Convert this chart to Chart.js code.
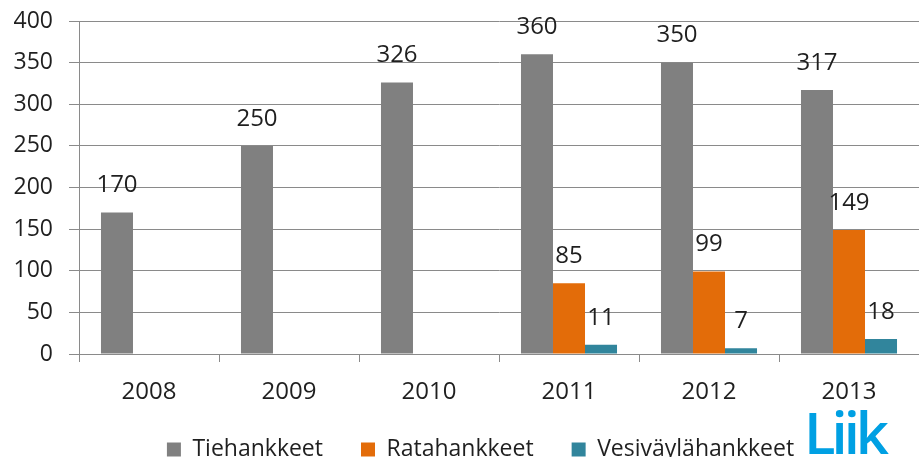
<!DOCTYPE html>
<html>
<head>
<meta charset="utf-8">
<script src="https://cdn.jsdelivr.net/npm/chart.js@4"></script>
<style>
  html, body { margin: 0; padding: 0; background: #fff; }
  #wrap { position: relative; width: 919px; height: 457px; overflow: hidden; }
  #logo { position: absolute; left: 804px; top: 403px; font-family: "Open Sans", sans-serif; font-weight: 600; font-size: 58px; line-height: 1; color: #00A0E3; letter-spacing: -4px; }
</style>
</head>
<body>
<div id="wrap">
  <canvas id="c" width="919" height="457"></canvas>
  <div id="logo">Liik</div>
</div>
<script>
const years = ['2008', '2009', '2010', '2011', '2012', '2013'];
const seriesNames = ['Tiehankkeet', 'Ratahankkeet', 'Vesiväylähankkeet'];
const tiehankkeet = [170, 250, 326, 360, 350, 317];
const ratahankkeet = [null, null, null, 85, 99, 149];
const vesivaylahankkeet = [null, null, null, 11, 7, 18];
const seriesColors = ['#808080', '#E36C09', '#31859C'];
const yTicks = [0, 50, 100, 150, 200, 250, 300, 350, 400];

const FONT = '"Open Sans", sans-serif';
const TEXT = '#1f1f1f';
const GRID = '#8a8a8a';

const labelPlugin = {
  id: 'valueLabels',
  afterDatasetsDraw(chart) {
    const ctx = chart.ctx;
    ctx.save();
    ctx.font = '24px ' + FONT;
    ctx.fillStyle = TEXT;
    ctx.textAlign = 'center';
    ctx.textBaseline = 'middle';
    chart.data.datasets.forEach((ds, i) => {
      const meta = chart.getDatasetMeta(i);
      meta.data.forEach((el, j) => {
        const v = ds.data[j];
        if (v === null || v === undefined) return;
        ctx.fillText(String(v), el.x, el.y - 27);
      });
    });
    ctx.restore();
  }
};

// shift the legend block: centred a bit right of the canvas centre
const legendShift = {
  id: 'legendShift',
  afterLayout(chart) {
    const lg = chart.legend;
    if (!lg) return;
    lg.left += 42;
    lg.top -= 6;
  }
};

new Chart(document.getElementById('c'), {
  type: 'bar',
  data: {
    labels: years,
    datasets: [
      { label: seriesNames[0], data: tiehankkeet, backgroundColor: seriesColors[0] },
      { label: seriesNames[1], data: ratahankkeet, backgroundColor: seriesColors[1] },
      { label: seriesNames[2], data: vesivaylahankkeet, backgroundColor: seriesColors[2] }
    ]
  },
  options: {
    responsive: false,
    animation: false,
    layout: { padding: { top: 21, right: 0, left: 0, bottom: -20 } },
    datasets: { bar: { barPercentage: 1.0, categoryPercentage: 0.686 } },
    plugins: {
      legend: {
        position: 'bottom',
        labels: {
          font: { family: FONT, size: 23 },
          color: TEXT,
          boxWidth: 14,
          boxHeight: 14,
          padding: 38
        }
      },
      tooltip: { enabled: false }
    },
    scales: {
      x: {
        offset: true,
        afterFit(axis) { axis.height = 52; },
        grid: { display: true, drawOnChartArea: false, drawTicks: true, tickLength: 8, color: GRID, offset: true },
        border: { display: true, color: GRID },
        ticks: { font: { family: FONT, size: 24 }, color: TEXT, padding: 16 }
      },
      y: {
        min: 0,
        max: 400,
        afterBuildTicks(axis) { axis.ticks = yTicks.map(v => ({ value: v })); },
        afterFit(axis) { axis.width = 79; axis.paddingTop = 0; axis.paddingBottom = 0; },
        grid: { color: GRID, tickLength: 10 },
        border: { display: true, color: GRID },
        ticks: { font: { family: FONT, size: 23 }, color: TEXT, padding: 16 }
      }
    }
  },
  plugins: [labelPlugin, legendShift]
});
</script>
</body>
</html>
